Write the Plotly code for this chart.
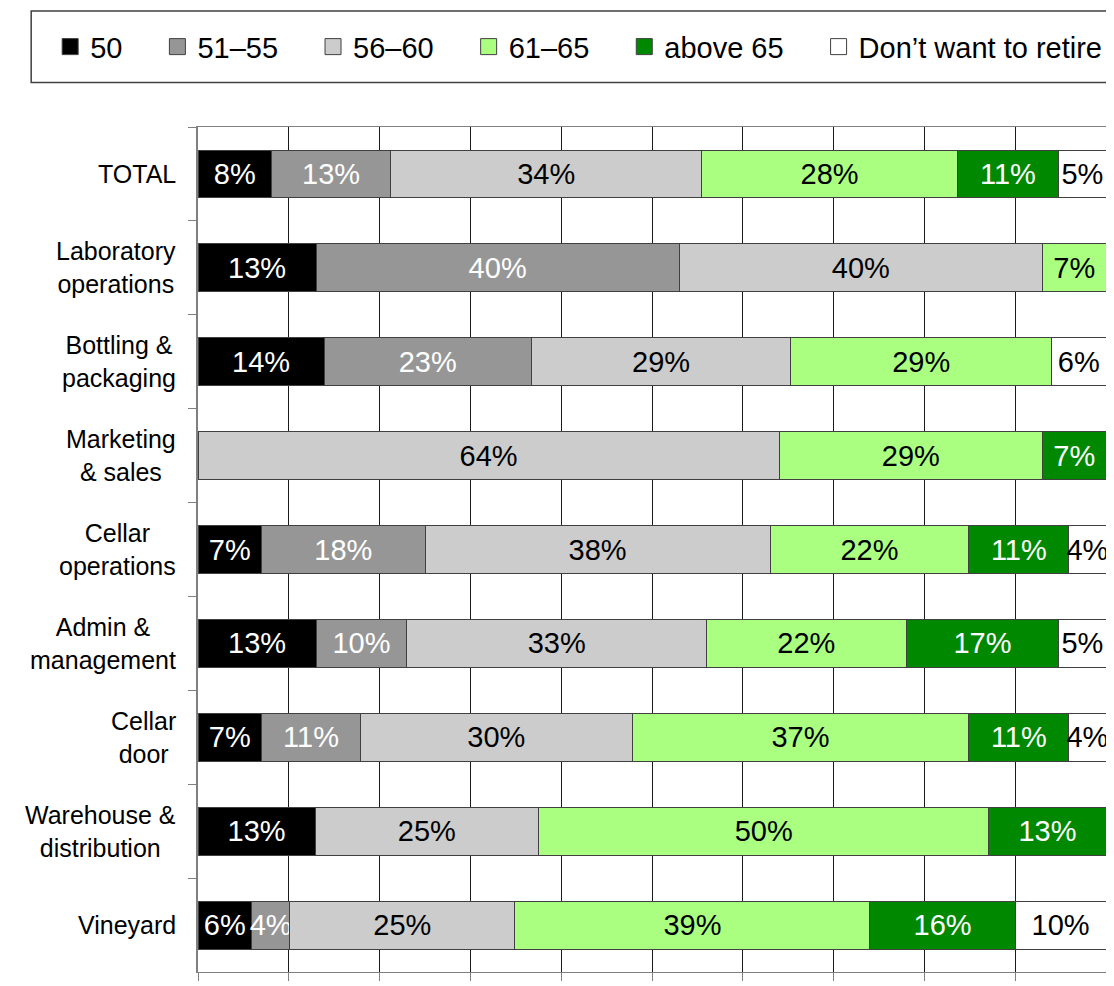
import plotly.graph_objects as go

# ---- data ----
categories = ["TOTAL", "Laboratory<br>operations", "Bottling &<br>packaging", "Marketing<br>& sales",
              "Cellar<br>operations", "Admin &<br>management", "Cellar<br>door",
              "Warehouse &<br>distribution", "Vineyard"]
series_names = ["50", "51–55", "56–60", "61–65", "above 65", "Don’t want to retire"]
age_50 = [8.1, 13, 13.9, 0, 7, 13, 7, 12.9, 5.9]
age_51_55 = [13.1, 40, 22.8, 0, 18, 10, 10.9, 0, 4.2]
age_56_60 = [34.3, 40, 28.6, 64, 38, 33, 29.9, 24.6, 24.8]
age_61_65 = [28.1, 7, 28.7, 29, 21.9, 22, 37.1, 49.6, 39.1]
above_65 = [11.2, 0, 0, 7, 11, 16.8, 11, 12.9, 16]
dont_retire = [5.2, 0, 6, 0, 4.1, 5.2, 4.1, 0, 10]

series_values = [age_50, age_51_55, age_56_60, age_61_65, above_65, dont_retire]
colors = ["#000000", "#969696", "#cccccc", "#aaff80", "#008800", "#ffffff"]
text_colors = ["#ffffff", "#ffffff", "#000000", "#000000", "#ffffff", "#000000"]

FONT = "Liberation Sans, Arial, sans-serif"

# page offset of the browser's default body margin
OFF = 8
W, H = 1114 - OFF, 986 - OFF
ML, MR, MT, MB = 198 - OFF, 7, 127 - OFF, 6
PX0, PX1, PY0, PY1 = 198, 1107, 127, 980  # plot area in page pixels


def px_x(p):
    return (p - PX0) / (PX1 - PX0)


def px_y(p):
    return (PY1 - p) / (PY1 - PY0)


fig = go.Figure()
for name, vals, col, tcol in zip(series_names, series_values, colors, text_colors):
    fig.add_trace(go.Bar(
        y=categories,
        x=[v if v > 0 else None for v in vals],
        orientation="h",
        name=name,
        marker=dict(color=col, line=dict(color="#404040", width=1)),
        text=[f"{int(v + 0.5)}%" if v > 0 else "" for v in vals],
        textposition="inside",
        insidetextanchor="middle",
        textangle=0,
        insidetextfont=dict(color=tcol, size=29, family=FONT),
        showlegend=False,
        hoverinfo="skip",
    ))

# legend entries (square markers)
PAD = "\u00a0" * 3 + "\u2009"
for i, (name, col) in enumerate(zip(series_names, colors)):
    fig.add_trace(go.Scatter(
        x=[None], y=[None], mode="markers",
        name=name + (PAD if i < len(series_names) - 1 else ""),
        marker=dict(symbol="square", size=16, color=col, line=dict(color="#404040", width=1)),
        showlegend=True, hoverinfo="skip",
    ))

# category labels as centered multi-line annotations
for cat in categories:
    fig.add_annotation(
        x=px_x(178), xref="paper", y=cat, yref="y",
        text=cat, showarrow=False, xanchor="right", yanchor="middle",
        align="center", font=dict(size=25, family=FONT, color="#000000"),
    )

# legend box
fig.add_shape(type="rect", xref="paper", yref="paper",
              x0=px_x(31), x1=px_x(1125),
              y0=px_y(82), y1=px_y(10),
              line=dict(color="#404040", width=1.5), fillcolor="rgba(0,0,0,0)", layer="below")

fig.update_layout(
    width=W, height=H,
    margin=dict(l=ML, r=MR, t=MT, b=MB),
    paper_bgcolor="#ffffff", plot_bgcolor="#ffffff",
    barmode="stack", bargap=0.49,
    font=dict(family=FONT, color="#000000"),
    uniformtext=dict(minsize=29, mode="show"),
    legend=dict(
        orientation="h", x=px_x(50), xanchor="left",
        y=px_y(46), yanchor="middle",
        font=dict(size=29, family=FONT, color="#000000"),
        bgcolor="rgba(0,0,0,0)", borderwidth=0, itemsizing="trace",
        traceorder="normal",
    ),
    xaxis=dict(range=[0, 100], dtick=10, showgrid=True, gridcolor="#1a1a1a", gridwidth=1,
               zeroline=False, showline=True, linecolor="#808080", linewidth=1, mirror=True,
               ticks="outside", ticklen=8, tickcolor="#808080", showticklabels=False,
               fixedrange=True),
    yaxis=dict(autorange="reversed", showgrid=False, showline=True, linecolor="#808080",
               linewidth=1.5, mirror=True, ticks="outside", ticklen=8, tickcolor="#808080",
               tickson="boundaries", showticklabels=False, fixedrange=True),
)

fig.write_html("out.html")
